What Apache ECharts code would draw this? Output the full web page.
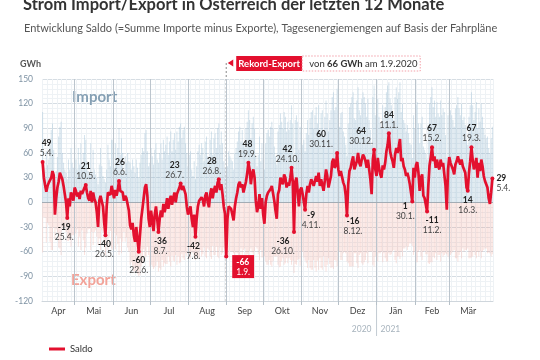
<!DOCTYPE html>
<html><head><meta charset="utf-8">
<script src="https://cdn.jsdelivr.net/npm/echarts@6/dist/echarts.min.js"></script>
<style>html,body{margin:0;padding:0;background:#fff}#c{width:540px;height:360px}</style>
</head><body><div id="c"></div>
<script>
// ---------- DATA ----------
const startDay = [2020, 3, 5]; // 5.4.2020, one value per day up to 5.4.2021
// Saldo (import minus export), GWh per day
const saldo = [
  49,30,21,13,20,24,22,30,38,33,-15,5,18,25,36,34,28,20,10,0,-19,5,-5,12,8,2,
  18,14,7,12,4,14,10,14,18,21,12,5,2,14,0,12,4,0,-12,-30,2,8,10,-5,-25,-40,-5,12,10,9,20,
  18,5,15,8,15,26,14,16,12,2,8,5,5,-10,-28,-33,-25,-40,-48,-30,-45,-60,-40,-20,-8,5,18,22,8,-20,
  -30,-10,-22,-35,-15,-5,-20,-36,-20,-10,-18,-2,-12,-5,5,-8,2,8,-3,5,12,0,10,8,18,23,15,20,22,10,-5,
  -15,-10,-5,-20,-30,-15,-42,-20,-5,2,0,6,3,-5,8,12,0,-6,10,17,5,14,20,12,24,28,15,22,10,-5,-14,
  -66,-20,-5,-3,-8,-10,-22,-5,5,12,22,25,18,22,12,10,25,35,48,40,22,35,40,30,2,-12,-5,10,-8,5,
  -15,-26,0,8,12,10,16,20,18,2,-10,-20,10,15,30,26,22,34,30,18,24,20,30,42,25,-36,25,30,28,-5,15,
  18,10,9,-9,10,20,12,22,28,30,20,26,32,25,36,20,28,30,14,26,40,32,18,25,32,49,53,42,45,60,
  40,32,38,40,24,20,8,-16,22,38,42,50,56,40,38,50,60,48,44,52,58,55,50,42,52,40,28,10,52,64,40,
  32,54,42,34,30,45,40,48,62,70,84,62,55,50,42,58,66,60,68,77,50,54,44,40,32,36,30,22,20,1,42,
  30,45,49,36,14,30,34,8,5,-3,-11,20,45,55,67,50,56,42,52,44,40,52,44,48,46,20,-9,40,
  55,48,44,40,34,46,50,56,50,46,52,44,44,36,18,14,36,50,67,52,40,46,54,30,48,38,52,44,32,26,22,
  18,5,-2,12,29
];
// Imports, GWh per day
const importGWh = [
  110,48,40,62,45,52,70,88,96,64,30,38,55,80,92,98,60,48,40,36,28,52,40,66,48,42,
  70,52,40,66,46,72,44,60,82,76,50,38,34,72,36,64,40,34,30,22,46,66,44,32,28,24,40,70,52,44,76,
  76,42,72,48,66,90,58,78,60,38,56,48,60,50,48,40,52,44,36,52,42,30,48,58,66,62,84,88,62,44,
  48,66,56,46,64,72,52,48,60,72,52,76,62,70,80,58,74,86,62,76,84,64,86,74,92,96,78,88,92,72,60,
  44,58,62,40,32,50,28,44,62,70,58,72,66,50,74,80,56,52,76,86,58,78,84,66,90,96,70,86,72,50,42,
  28,44,62,56,52,50,40,60,66,74,86,92,74,88,70,66,90,98,112,100,78,96,104,90,56,44,58,80,50,72,
  52,40,72,84,88,80,92,98,90,68,56,46,86,94,108,98,90,110,104,86,98,88,100,118,96,50,100,106,98,64,92,
  86,70,76,62,84,100,82,102,110,112,90,106,116,96,118,88,108,112,80,104,124,108,86,100,112,128,134,112,116,138,
  112,92,108,110,86,80,70,56,96,116,120,128,134,102,100,124,140,112,106,126,134,128,120,104,126,100,88,70,128,142,106,
  94,126,104,96,90,118,102,116,134,142,146,126,118,110,100,128,140,126,134,146,110,120,100,96,86,94,84,72,70,54,106,
  90,118,122,96,72,96,104,68,64,60,52,94,120,128,140,116,124,104,122,108,104,124,106,114,110,82,54,106,
  124,112,106,100,92,114,118,128,114,106,120,100,104,94,76,70,104,118,134,118,100,110,122,90,114,98,120,104,90,82,78,
  80,66,60,78,92
];
// Exports, GWh per day (negative)
const exportGWh = [
  -61,-18,-19,-49,-25,-28,-48,-58,-58,-31,-45,-33,-37,-55,-56,-64,-32,-28,-30,-36,-47,-47,-45,-54,-40,-40,
  -52,-38,-33,-54,-42,-58,-34,-46,-64,-55,-38,-33,-32,-58,-36,-52,-36,-34,-42,-52,-44,-58,-34,-37,-53,-64,-45,-58,-42,-35,-56,
  -58,-37,-57,-40,-51,-64,-44,-62,-48,-36,-48,-43,-55,-60,-76,-73,-77,-84,-84,-82,-87,-90,-88,-78,-74,-57,-66,-66,-54,-64,
  -78,-76,-78,-81,-79,-77,-72,-84,-80,-82,-70,-78,-74,-75,-75,-66,-72,-78,-65,-71,-72,-64,-76,-66,-74,-73,-63,-68,-70,-62,-65,
  -59,-68,-67,-60,-62,-65,-70,-64,-67,-68,-58,-66,-63,-55,-66,-68,-56,-58,-66,-69,-53,-64,-64,-54,-66,-68,-55,-64,-62,-55,-56,
  -94,-64,-67,-59,-60,-60,-62,-65,-61,-62,-64,-67,-56,-66,-58,-56,-65,-63,-64,-60,-56,-61,-64,-60,-54,-56,-63,-70,-58,-67,
  -67,-66,-72,-76,-76,-70,-76,-78,-72,-66,-66,-66,-76,-79,-78,-72,-68,-76,-74,-68,-74,-68,-70,-76,-71,-86,-75,-76,-70,-69,-77,
  -68,-60,-67,-71,-74,-80,-70,-80,-82,-82,-70,-80,-84,-71,-82,-68,-80,-82,-66,-78,-84,-76,-68,-75,-80,-79,-81,-70,-71,-78,
  -72,-60,-70,-70,-62,-60,-62,-72,-74,-78,-78,-78,-78,-62,-62,-74,-80,-64,-62,-74,-76,-73,-70,-62,-74,-60,-60,-60,-76,-78,-66,
  -62,-72,-62,-62,-60,-73,-62,-68,-72,-72,-62,-64,-63,-60,-58,-70,-74,-66,-66,-69,-60,-66,-56,-56,-54,-58,-54,-50,-50,-53,-64,
  -60,-73,-73,-60,-58,-66,-70,-60,-59,-63,-63,-74,-75,-73,-73,-66,-68,-62,-70,-64,-64,-72,-62,-66,-64,-62,-63,-66,
  -69,-64,-62,-60,-58,-68,-68,-72,-64,-60,-68,-56,-60,-58,-58,-56,-68,-68,-67,-66,-60,-64,-68,-60,-66,-60,-68,-60,-58,-56,-56,
  -62,-61,-62,-66,-63
];
const monthShort = ['Jän','Feb','Mär','Apr','Mai','Jun','Jul','Aug','Sep','Okt','Nov','Dez'];
const yearLabels = ['2020', '2021'];
const yAxisRange = { min: -120, max: 150, step: 30 };
// dates whose Saldo value is labelled in the chart
const labelDates = [
  '2020-04-05','2020-05-10','2020-06-06','2020-07-26','2020-08-26','2020-09-19','2020-10-24',
  '2020-11-30','2020-12-30','2021-01-11','2021-02-15','2021-03-19',
  '2020-04-25','2020-05-26','2020-06-22','2020-07-08','2020-08-07','2020-10-26','2020-11-04',
  '2020-12-08','2021-01-30','2021-02-11','2021-03-16','2021-04-05'
];
const recordDate = '2020-09-01';

// ---------- LAYOUT / STYLE ----------
const RED = '#e3102e';
const FONT = 'Lato, "Open Sans", sans-serif';
const labelLayout = {
  '2020-04-05': {pos:'top', dx:4}, '2020-05-10': {pos:'top', dx:0}, '2020-06-06': {pos:'top', dx:1},
  '2020-07-26': {pos:'top', dx:-6}, '2020-08-26': {pos:'top', dx:-7}, '2020-09-19': {pos:'top', dx:-1},
  '2020-10-24': {pos:'top', dx:-4}, '2020-11-30': {pos:'top', dx:-16}, '2020-12-30': {pos:'top', dx:-13},
  '2021-01-11': {pos:'top', dx:0}, '2021-02-15': {pos:'top', dx:0}, '2021-03-19': {pos:'top', dx:0},
  '2020-04-25': {pos:'bottom', dx:-3}, '2020-05-26': {pos:'bottom', dx:-1}, '2020-06-22': {pos:'bottom', dx:0},
  '2020-07-08': {pos:'bottom', dx:2}, '2020-08-07': {pos:'bottom', dx:-2}, '2020-10-26': {pos:'bottom', dx:-11},
  '2020-11-04': {pos:'bottom', dx:6, dy:-3}, '2020-12-08': {pos:'bottom', dx:6, dy:-3},
  '2021-01-30': {pos:'bottom', dx:-7, dy:-4}, '2021-02-11': {pos:'bottom', dx:5}, '2021-03-16': {pos:'bottom', dx:0},
  '2021-04-05': {pos:'right', dx:0, dy:5}
};

// ---------- BUILD ----------
const DAY = 86400000;
const dayTs = i => new Date(startDay[0], startDay[1], startDay[2] + i).getTime();
const parseDate = s => { const p = s.split('-').map(Number); return new Date(p[0], p[1]-1, p[2]).getTime(); };
const idxOf = s => Math.round((parseDate(s) - dayTs(0)) / DAY);
const n = saldo.length;
const xMin = dayTs(0) - DAY/2, xMax = dayTs(n-1) + DAY/2;

const saldoData = saldo.map((v,i) => [dayTs(i), v]);
const impData = importGWh.map((v,i) => [dayTs(i), v]);
const expData = exportGWh.map((v,i) => [dayTs(i), v]);

// month boundaries and label centres
const monthStarts = [];
const monthMids = [];
{
  const d0 = new Date(dayTs(0));
  let y = d0.getFullYear(), m = d0.getMonth();
  for (let k = 0; k < 12; k++) {
    const s = Math.max(xMin, new Date(y, m + k, 1).getTime());
    const e = Math.min(xMax, new Date(y, m + k + 1, 1).getTime());
    monthMids.push((s + e) / 2);
    monthStarts.push(new Date(y, m + k + 1, 1).getTime());
  }
}

const rich = {
  v: {fontFamily: FONT, fontWeight: 'bold', fontSize: 8.5, lineHeight: 10, color: '#222'},
  d: {fontFamily: FONT, fontSize: 8.5, lineHeight: 10, color: '#444'},
  vw: {fontFamily: FONT, fontWeight: 'bold', fontSize: 8.5, lineHeight: 10, color: '#fff'},
  dw: {fontFamily: FONT, fontSize: 8.5, lineHeight: 10, color: '#fff'}
};
const fmtDate = ts => { const d = new Date(ts); return d.getDate() + '.' + (d.getMonth()+1) + '.'; };

const markPts = labelDates.map(s => {
  const i = idxOf(s), v = saldo[i], L = labelLayout[s];
  return {
    coord: [dayTs(i), v], value: v,
    label: {
      show: true, position: L.pos, distance: L.pos === 'top' ? 1.5 : 2,
      offset: [L.dx || 0, L.dy || 0], align: L.pos === 'right' ? 'left' : 'center',
      formatter: '{v|' + v + '}\n{d|' + fmtDate(dayTs(i)) + '}', rich: rich
    }
  };
});
{
  const i = idxOf(recordDate), v = saldo[i];
  markPts.push({
    coord: [dayTs(i), v], value: v,
    label: {
      show: true, position: 'right', distance: 4, offset: [0, 10], align: 'left',
      backgroundColor: RED, padding: [2, 4, 1, 4],
      formatter: '{vw|' + v + '}\n{dw|' + fmtDate(dayTs(i)) + '}', rich: rich
    }
  });
}

const chart = echarts.init(document.getElementById('c'));
const option = {
  animation: false,
  backgroundColor: '#fff',
  title: [
    {text: 'Strom Import/Export in Österreich der letzten 12 Monate', left: 18, top: -9,
     textStyle: {fontFamily: FONT, fontSize: 16.5, fontWeight: 'bold', color: '#333'}},
    {text: 'Entwicklung Saldo (=Summe Importe minus Exporte), Tagesenergiemengen auf Basis der Fahrpläne',
     left: 19, top: 18, textStyle: {fontFamily: FONT, fontSize: 11, fontWeight: 'normal', color: '#555'}}
  ],
  legend: {data: ['Saldo'], left: 44, top: 339, icon: 'rect', itemWidth: 16, itemHeight: 3,
    textStyle: {fontFamily: FONT, fontSize: 9.5, color: '#333'}},
  grid: {left: 42, right: 47, top: 79, bottom: 59, containLabel: false},
  xAxis: [
    {type: 'value', min: xMin, max: xMax, scale: true,
     axisLine: {show: true, onZero: false, lineStyle: {color: '#cfd6dc'}},
     axisTick: {show: true, customValues: monthStarts.slice(0, 11), length: 4, lineStyle: {color: '#b6c0c8'}},
     axisLabel: {customValues: monthMids, margin: 6, fontFamily: FONT, fontSize: 9, color: '#444',
       formatter: v => monthShort[new Date(v).getMonth()]},
     splitLine: {show: false}},
    {type: 'value', min: 0, max: n, interval: 4, position: 'bottom',
     axisLine: {show: false}, axisTick: {show: false}, axisLabel: {show: false},
     splitLine: {show: true, lineStyle: {color: '#eef2f5', width: 1}}}
  ],
  yAxis: {type: 'value', min: yAxisRange.min, max: yAxisRange.max, interval: yAxisRange.step,
    axisLine: {show: false}, axisTick: {show: false},
    axisLabel: {fontFamily: FONT, fontSize: 8.5, color: '#7f93a4', margin: 9},
    splitLine: {lineStyle: {color: '#d6dde3'}},
    minorTick: {show: false, splitNumber: 5},
    minorSplitLine: {show: true, lineStyle: {color: '#eef2f5'}}},
  series: [
    {name: 'grid', type: 'line', xAxisIndex: 1, data: [], silent: true},
    {name: 'Import', type: 'bar', stack: 'bg', stackStrategy: 'samesign', data: impData, barWidth: 0.8,
     itemStyle: {color: 'rgba(140,180,206,0.36)'}, silent: true, z: 1},
    {name: 'Export', type: 'bar', stack: 'bg', stackStrategy: 'samesign', data: expData, barWidth: 0.8,
     itemStyle: {color: 'rgba(236,150,138,0.27)'}, silent: true, z: 1,
     markLine: {silent: true, symbol: 'none', label: {show: false},
       data: monthStarts.slice(0, 11).map(t => ({xAxis: t, lineStyle: {color: '#bcc5cd', width: 1, type: 'solid'}}))
         .concat([{yAxis: 0, lineStyle: {color: '#a3acb4', width: 1, type: 'solid'}}])}},
    {name: 'Saldo', type: 'line', data: saldoData, showSymbol: false, z: 5,
     lineStyle: {color: RED, width: 2.7}, itemStyle: {color: RED},
     markPoint: {symbol: 'circle', symbolSize: 4, itemStyle: {color: RED}, data: markPts, z: 6}}
  ]
};
chart.setOption(option);

// ---------- annotations positioned through the chart's own scales ----------
const toPx = (ts, v) => chart.convertToPixel({seriesIndex: 3}, [ts, v]);
const recIdx = idxOf(recordDate);
const recX = toPx(dayTs(recIdx), 0)[0];
const janX = toPx(new Date(2021, 0, 1).getTime(), 0)[0];
const bottomY = toPx(xMin, yAxisRange.min)[1];
const recVal = Math.abs(saldo[recIdx]);
const annY = 56;
chart.setOption({
  graphic: [
    {type: 'text', left: 20, top: 60, style: {text: 'GWh', fontFamily: FONT, fontSize: 9, fontWeight: 'bold', fill: '#555'}},
    {type: 'text', left: 72, top: 90, style: {text: 'Import', fontFamily: FONT, fontSize: 15, fontWeight: 'bold', fill: '#86a0b4'}},
    {type: 'text', left: 71, top: 273, style: {text: 'Export', fontFamily: FONT, fontSize: 15, fontWeight: 'bold', fill: '#f2a399'}},
    {type: 'line', shape: {x1: recX, y1: annY + 7, x2: recX, y2: bottomY}, z: 2,
     style: {stroke: '#8a8a8a', lineWidth: 1, lineDash: [2, 2]}},
    {type: 'polygon', shape: {points: [[recX + 7, annY + 3.5], [recX + 7, annY + 10.5], [recX + 1.5, annY + 7]]}, style: {fill: RED}},
    {type: 'rect', shape: {x: recX + 10, y: annY, width: 66, height: 15}, style: {fill: RED}},
    {type: 'text', x: recX + 43, y: annY + 7.5, style: {text: 'Rekord-Export', fontFamily: FONT, fontSize: 9.5, fontWeight: 'bold', fill: '#fff', align: 'center', verticalAlign: 'middle'}},
    {type: 'rect', shape: {x: recX + 76, y: annY, width: 118, height: 15}, style: {fill: '#fff', stroke: '#f3a1aa', lineWidth: 1, lineDash: [1.5, 1.5]}},
    {type: 'text', x: recX + 83, y: annY + 7.5, style: {text: 'von {b|' + recVal + ' GWh} am ' + fmtDate(dayTs(recIdx)) + new Date(dayTs(recIdx)).getFullYear(),
      rich: {b: {fontFamily: FONT, fontSize: 9.5, fontWeight: 'bold', fill: '#333'}},
      fontFamily: FONT, fontSize: 9.5, fill: '#333', verticalAlign: 'middle'}},
    {type: 'line', shape: {x1: janX, y1: bottomY, x2: janX, y2: bottomY + 35}, style: {stroke: '#c3cbd2', lineWidth: 1}},
    {type: 'text', x: janX - 5, y: bottomY + 28, style: {text: yearLabels[0], fontFamily: FONT, fontSize: 8.5, fill: '#a7b3bd', align: 'right', verticalAlign: 'middle'}},
    {type: 'text', x: janX + 4, y: bottomY + 28, style: {text: yearLabels[1], fontFamily: FONT, fontSize: 8.5, fill: '#a7b3bd', align: 'left', verticalAlign: 'middle'}}
  ]
});
</script></body></html>
